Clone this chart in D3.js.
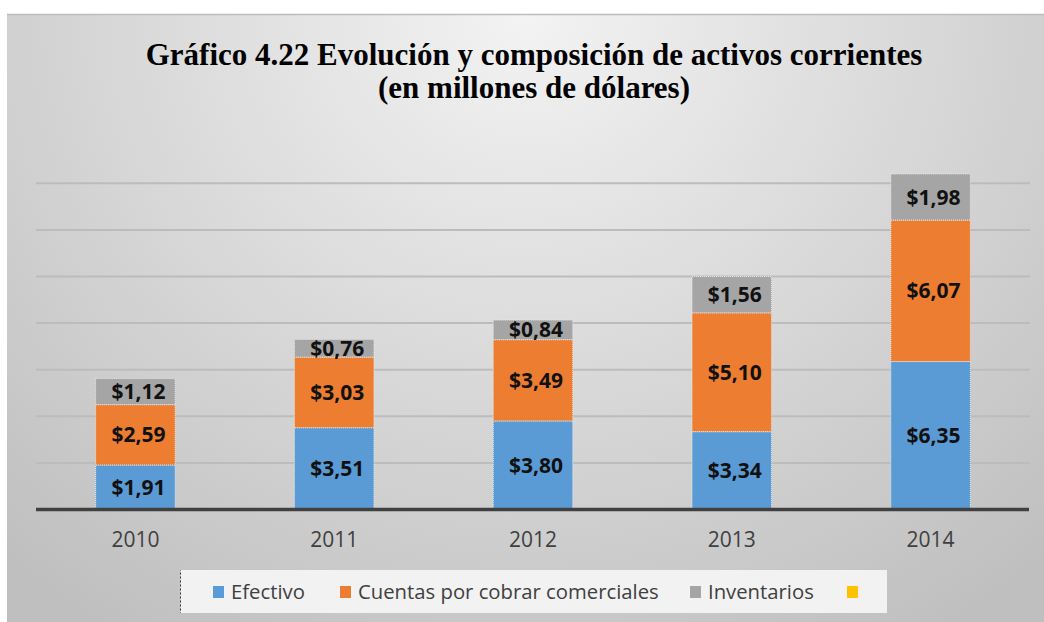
<!DOCTYPE html>
<html>
<head>
<meta charset="utf-8">
<script src="https://cdn.jsdelivr.net/npm/d3@7.9.0/dist/d3.min.js"></script>
<style>
  body { margin: 0; background: #fff; }
  svg { display: block; }
</style>
</head>
<body>
<div id="chart"></div>
<script>
// Data
const years = ['2010', '2011', '2012', '2013', '2014'];
const series = ['Efectivo', 'Cuentas por cobrar comerciales', 'Inventarios', ''];
const efectivo = [1.91, 3.51, 3.80, 3.34, 6.35];
const cuentas = [2.59, 3.03, 3.49, 5.10, 6.07];
const inventarios = [1.12, 0.76, 0.84, 1.56, 1.98];
const gridTicks = [2, 4, 6, 8, 10, 12, 14];
const colors = ['#5b9bd5', '#ed7d31', '#a5a5a5', '#ffc000'];

const W = 1044, H = 622;
const plot = { left: 36, right: 1030, top: 136.7, bottom: 509.5 };

const svg = d3.select('#chart').append('svg')
  .attr('width', W)
  .attr('height', H);

// Background gradient
const defs = svg.append('defs');
const grad = defs.append('radialGradient')
  .attr('id', 'bg')
  .attr('cx', '50%').attr('cy', '0%')
  .attr('r', '75%')
  .attr('gradientTransform', 'translate(0.5,0) scale(1,1.6) translate(-0.5,0)');
grad.append('stop').attr('offset', '0%').attr('stop-color', '#f3f3f3');
grad.append('stop').attr('offset', '100%').attr('stop-color', '#bfbfbf');

svg.append('rect')
  .attr('x', 7).attr('y', 14)
  .attr('width', W - 7).attr('height', H - 14)
  .attr('fill', 'url(#bg)');
svg.append('line')
  .attr('x1', 7).attr('x2', W)
  .attr('y1', 14.5).attr('y2', 14.5)
  .attr('stroke', '#bdbdbd').attr('stroke-width', 1.5);

// Title
const title = svg.append('text')
  .attr('x', 534)
  .attr('text-anchor', 'middle')
  .attr('font-family', '"Liberation Serif", "Times New Roman", serif')
  .attr('font-weight', 'bold')
  .attr('font-size', '31px')
  .attr('fill', '#000');
title.append('tspan').attr('x', 534).attr('y', 65)
  .text('Gráfico 4.22 Evolución y composición de activos corrientes');
title.append('tspan').attr('x', 534).attr('y', 98)
  .text('(en millones de dólares)');

// Scales
const x = d3.scaleBand()
  .domain(years)
  .range([plot.left, plot.right])
  .paddingInner(0.6)
  .paddingOuter(0.3);

const y = d3.scaleLinear()
  .domain([0, 16])
  .range([plot.bottom, plot.top]);

// Gridlines
svg.append('g')
  .selectAll('line')
  .data(gridTicks)
  .join('line')
  .attr('x1', plot.left).attr('x2', plot.right)
  .attr('y1', (d) => y(d)).attr('y2', (d) => y(d))
  .attr('stroke', '#bcbcbc')
  .attr('stroke-width', 2);

// Stack
const rows = years.map((yr, i) => ({
  year: yr,
  Efectivo: efectivo[i],
  Cuentas: cuentas[i],
  Inventarios: inventarios[i]
}));
const keys = ['Efectivo', 'Cuentas', 'Inventarios'];
const stacked = d3.stack().keys(keys)(rows);

const layers = svg.append('g')
  .selectAll('g')
  .data(stacked)
  .join('g')
  .attr('fill', (d, i) => colors[i]);

layers.selectAll('rect')
  .data((d) => d)
  .join('rect')
  .attr('x', (d) => x(d.data.year))
  .attr('width', x.bandwidth())
  .attr('y', (d) => y(d[1]))
  .attr('height', (d) => y(d[0]) - y(d[1]))
  .attr('stroke', '#e8e8e8')
  .attr('stroke-width', 1)
  .attr('stroke-dasharray', '1,1');

// Bar labels
const fmt = (v) => '$' + v.toFixed(2).replace('.', ',');
layers.selectAll('text')
  .data((d) => d)
  .join('text')
  .attr('x', (d) => x(d.data.year) + x.bandwidth() / 2 + 3)
  .attr('y', (d) => (y(d[0]) + y(d[1])) / 2)
  .attr('dy', '0.36em')
  .attr('text-anchor', 'middle')
  .attr('font-family', '"Open Sans", sans-serif')
  .attr('font-weight', 'bold')
  .attr('font-size', '21px')
  .attr('fill', '#111')
  .text((d) => fmt(d[1] - d[0]));

// Baseline
svg.append('line')
  .attr('x1', plot.left).attr('x2', plot.right - 1)
  .attr('y1', y(0)).attr('y2', y(0))
  .attr('stroke', '#404040')
  .attr('stroke-width', 3.5);

// X axis labels
const xAxis = d3.axisBottom(x).tickSize(0).tickPadding(21);
const gx = svg.append('g')
  .attr('transform', `translate(0,${y(0) + 2})`)
  .call(xAxis);
gx.select('.domain').remove();
gx.selectAll('text')
  .attr('font-family', '"Open Sans", sans-serif')
  .attr('font-size', '21px')
  .attr('fill', '#404040');

// Legend
const legend = svg.append('g');
legend.append('rect')
  .attr('x', 180.5).attr('y', 570.5)
  .attr('width', 706).attr('height', 42)
  .attr('fill', '#f2f2f2')
  .attr('stroke', '#333')
  .attr('stroke-width', 1)
  .attr('stroke-dasharray', '2,2');
// cover top/bottom/right borders so only the left dotted edge shows
legend.append('rect')
  .attr('x', 181).attr('y', 570)
  .attr('width', 706).attr('height', 43)
  .attr('fill', '#f2f2f2');

const legendX = [213, 340, 690, 847];
const items = legend.selectAll('g.item')
  .data(series)
  .join('g')
  .attr('class', 'item')
  .attr('transform', (d, i) => `translate(${legendX[i]},592)`);
items.append('rect')
  .attr('x', 0).attr('y', -6)
  .attr('width', 11).attr('height', 12)
  .attr('fill', (d, i) => colors[i]);
items.append('text')
  .attr('x', 18)
  .attr('dy', '0.36em')
  .attr('font-family', '"Open Sans", sans-serif')
  .attr('font-size', '20.3px')
  .attr('fill', '#404040')
  .text((d) => d);
</script>
</body>
</html>
